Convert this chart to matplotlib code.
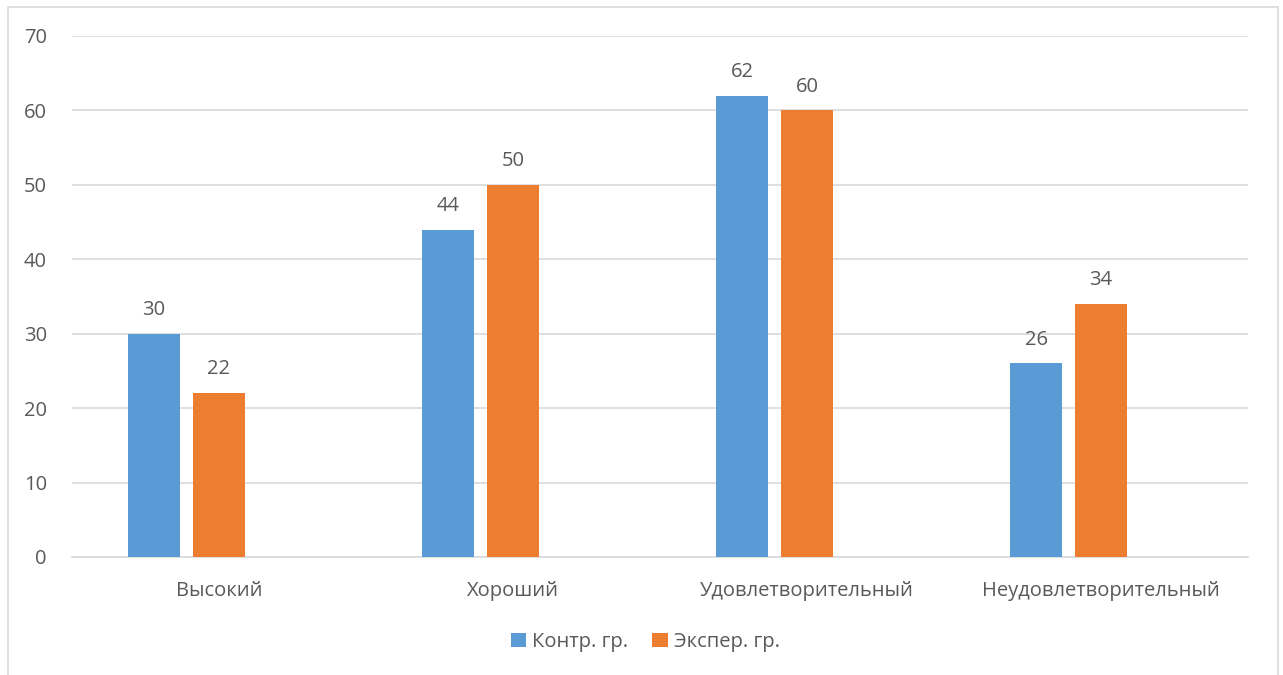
import numpy as np
import matplotlib.pyplot as plt
from matplotlib.patches import Rectangle

categories = ["Высокий", "Хороший", "Удовлетворительный", "Неудовлетворительный"]
control = [30, 44, 62, 26]
experiment = [22, 50, 60, 34]
series_names = ["Контр. гр.", "Экспер. гр."]

plt.rcParams["font.family"] = ["Open Sans", "DejaVu Sans"]
text_color = "#595959"
fs = 14.5

fig = plt.figure(figsize=(12.83, 6.75), dpi=100)
ax = fig.add_axes([72 / 1283, 1 - 557 / 675, 1176 / 1283, 521 / 675])

x = np.arange(len(categories))
w = 52 / 294
step = 65 / 294
b1 = ax.bar(x - step, control, w, color="#5B9BD5", label=series_names[0], zorder=3)
b2 = ax.bar(x, experiment, w, color="#ED7D31", label=series_names[1], zorder=3)
for bars in (b1, b2):
    ax.bar_label(bars, padding=10, fontsize=fs, color=text_color)

ax.set_xlim(-0.5, len(categories) - 0.5)
ax.set_ylim(0, 70)
ax.set_yticks(range(0, 71, 10))
ax.set_xticks(x)
ax.set_xticklabels(categories)
ax.grid(axis="y", color="#D9D9D9", linewidth=1.2, zorder=0)
for s in ["top", "right", "left"]:
    ax.spines[s].set_visible(False)
ax.spines["bottom"].set_color("#D9D9D9")
ax.spines["bottom"].set_linewidth(1.2)
ax.tick_params(axis="both", length=0, labelsize=fs, colors=text_color)
ax.tick_params(axis="y", pad=18)
ax.tick_params(axis="x", pad=17)

fig.legend(loc="center", bbox_to_anchor=(0.503, 1 - 642 / 675), ncol=2, frameon=False,
           fontsize=fs, labelcolor=text_color, handlelength=0.75, handleheight=0.75,
           handletextpad=0.3, columnspacing=1.2)

fig.patches.append(Rectangle((8 / 1283, -0.05), 1270 / 1283, 1.05 - 7 / 675,
                             transform=fig.transFigure, fill=False,
                             edgecolor="#D9D9D9", linewidth=1.2))

fig.savefig("out.png", dpi=100)
